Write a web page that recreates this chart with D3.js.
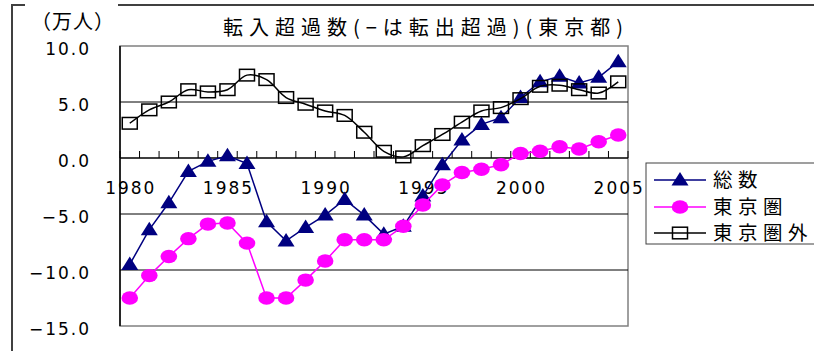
<!DOCTYPE html>
<meta charset="utf-8">
<style>
body { margin: 0; background: #fff; }
svg { display: block; }
.num { font-family: "DejaVu Sans", sans-serif; font-size: 17px; letter-spacing: 2px; fill: #000; }
.jp { font-family: "Noto Sans CJK JP", sans-serif; fill: #000; }
</style>
<svg width="814" height="351"></svg>
<script src="https://cdn.jsdelivr.net/npm/d3@7"></script>
<script>

var years = [1980, 1981, 1982, 1983, 1984, 1985, 1986, 1987, 1988, 1989, 1990, 1991, 1992,
             1993, 1994, 1995, 1996, 1997, 1998, 1999, 2000, 2001, 2002, 2003, 2004, 2005];

// 総数
var total = [-9.5, -6.4, -4.0, -1.2, -0.3, 0.2, -0.5, -5.7, -7.4, -6.2, -5.1, -3.7, -5.1,
             -6.8, -6.1, -3.4, -0.6, 1.6, 3.0, 3.6, 5.4, 6.8, 7.3, 6.7, 7.2, 8.6];
// 東京圏
var tokyoArea = [-12.5, -10.5, -8.8, -7.2, -5.9, -5.8, -7.6, -12.5, -12.5, -10.9, -9.2, -7.3, -7.3,
                 -7.3, -6.1, -4.2, -2.4, -1.3, -1.0, -0.6, 0.4, 0.6, 1.0, 0.8, 1.45, 2.05];
// 東京圏外
var outside = [3.1, 4.3, 5.0, 6.1, 5.9, 6.1, 7.4, 7.0, 5.4, 4.8, 4.2, 3.8, 2.3,
               0.6, 0.1, 1.1, 2.1, 3.2, 4.2, 4.5, 5.3, 6.4, 6.5, 6.1, 5.8, 6.8];

var yTicks = [10, 5, 0, -5, -10, -15];
var gridVals = [5, -5, -10];
var yearLabels = [1980, 1985, 1990, 1995, 2000, 2005];
var seriesNames = ["総数", "東京圏", "東京圏外"];

var svg = d3.select("svg");

var x = d3.scaleBand().domain(years).range([120, 628]),
    y = d3.scaleLinear().domain([-15, 10]).range([326, 46]);

function cx(d) { return x(d) + x.bandwidth() / 2; }

// outer frame
svg.append("path")
    .attr("d", "M12,351 L12,5 L25,5 M118,5 L814,5")
    .attr("fill", "none")
    .attr("stroke", "#404040")
    .attr("stroke-width", 2);

// plot area
svg.append("rect")
    .attr("x", 120).attr("y", y(10))
    .attr("width", 508).attr("height", y(-15) - y(10))
    .attr("fill", "#fff")
    .attr("stroke", "#808080")
    .attr("stroke-width", 1.5);

svg.selectAll(".grid")
  .data(gridVals)
  .enter().append("line")
    .attr("x1", 120).attr("x2", 628)
    .attr("y1", function(d) { return y(d); })
    .attr("y2", function(d) { return y(d); })
    .attr("stroke", "#000")
    .attr("stroke-width", 1);

// left axis
svg.append("line")
    .attr("x1", 120).attr("x2", 120)
    .attr("y1", y(10)).attr("y2", y(-15))
    .attr("stroke", "#000").attr("stroke-width", 1.5);

// zero axis with upward ticks
svg.append("line")
    .attr("x1", 120).attr("x2", 628)
    .attr("y1", y(0)).attr("y2", y(0))
    .attr("stroke", "#000").attr("stroke-width", 1.5);

svg.selectAll(".xtick")
  .data(years.concat([null]))
  .enter().append("line")
    .attr("x1", function(d, i) { return 120 + i * x.step(); })
    .attr("x2", function(d, i) { return 120 + i * x.step(); })
    .attr("y1", y(0)).attr("y2", y(0) - 7)
    .attr("stroke", "#000").attr("stroke-width", 1);

svg.selectAll(".xlab")
  .data(yearLabels)
  .enter().append("text")
    .attr("class", "num")
    .attr("x", function(d) { return cx(d) + 1; })
    .attr("y", y(0) + 36)
    .attr("text-anchor", "middle")
    .text(function(d) { return d; });

svg.selectAll(".ylab")
  .data(yTicks)
  .enter().append("text")
    .attr("class", "num")
    .attr("x", 91)
    .attr("y", function(d) { return y(d) + 8.5; })
    .attr("text-anchor", "end")
    .text(function(d) { return (d < 0 ? "\u2212" + (-d).toFixed(1) : d.toFixed(1)); });

// lines
var line = d3.line()
    .x(function(d, i) { return cx(years[i]); })
    .y(function(d) { return y(d); });

var smooth = d3.line()
    .curve(d3.curveCatmullRom.alpha(0.5))
    .x(function(d, i) { return cx(years[i]); })
    .y(function(d) { return y(d); });

function triangle(g, px, py) {
  g.append("path")
      .attr("d", "M" + px + "," + (py - 8) + " L" + (px + 8.5) + "," + (py + 5.5) + " L" + (px - 8.5) + "," + (py + 5.5) + "Z")
      .attr("fill", "#000080");
}
function circle(g, px, py) {
  g.append("ellipse")
      .attr("cx", px).attr("cy", py)
      .attr("rx", 8.3).attr("ry", 6.7)
      .attr("fill", "#ff00ff");
}
function square(g, px, py) {
  g.append("rect")
      .attr("x", px - 7.5).attr("y", py - 5.8)
      .attr("width", 15).attr("height", 11.6)
      .attr("fill", "none")
      .attr("stroke", "#000").attr("stroke-width", 1.5);
}

var gTotal = svg.append("g");
gTotal.append("path").attr("d", line(total))
    .attr("fill", "none").attr("stroke", "#000080").attr("stroke-width", 1.5);
total.forEach(function(v, i) { triangle(gTotal, cx(years[i]), y(v)); });

var gArea = svg.append("g");
gArea.append("path").attr("d", line(tokyoArea))
    .attr("fill", "none").attr("stroke", "#ff00ff").attr("stroke-width", 1.5);
tokyoArea.forEach(function(v, i) { circle(gArea, cx(years[i]), y(v)); });

var gOut = svg.append("g");
gOut.append("path").attr("d", smooth(outside))
    .attr("fill", "none").attr("stroke", "#000").attr("stroke-width", 1.5);
outside.forEach(function(v, i) { square(gOut, cx(years[i]), y(v)); });

// title and unit
svg.append("text")
    .attr("class", "jp")
    .attr("x", 426).attr("y", 35)
    .attr("text-anchor", "middle")
    .style("font-size", "20px")
    .style("letter-spacing", "6px")
    .text("転入超過数(−は転出超過)(東京都)");

svg.append("text")
    .attr("class", "jp")
    .attr("x", 31).attr("y", 29)
    .style("font-size", "20px")
    .style("letter-spacing", "1px")
    .text("（万人）");

// legend
var legend = svg.append("g");
legend.append("rect")
    .attr("x", 646).attr("y", 163)
    .attr("width", 180).attr("height", 81)
    .attr("fill", "#fff")
    .attr("stroke", "#404040").attr("stroke-width", 1);

var rowY = [180, 207, 233];
var markers = [triangle, circle, square];
var colors = ["#000080", "#ff00ff", "#000"];
seriesNames.forEach(function(name, i) {
  legend.append("line")
      .attr("x1", 654).attr("x2", 706)
      .attr("y1", rowY[i]).attr("y2", rowY[i])
      .attr("stroke", colors[i]).attr("stroke-width", 1.5);
  markers[i](legend, 680, rowY[i]);
  legend.append("text")
      .attr("class", "jp")
      .attr("x", 713).attr("y", rowY[i] + 7)
      .style("font-size", "19.5px")
      .style("letter-spacing", "5.5px")
      .text(name);
});

</script>
